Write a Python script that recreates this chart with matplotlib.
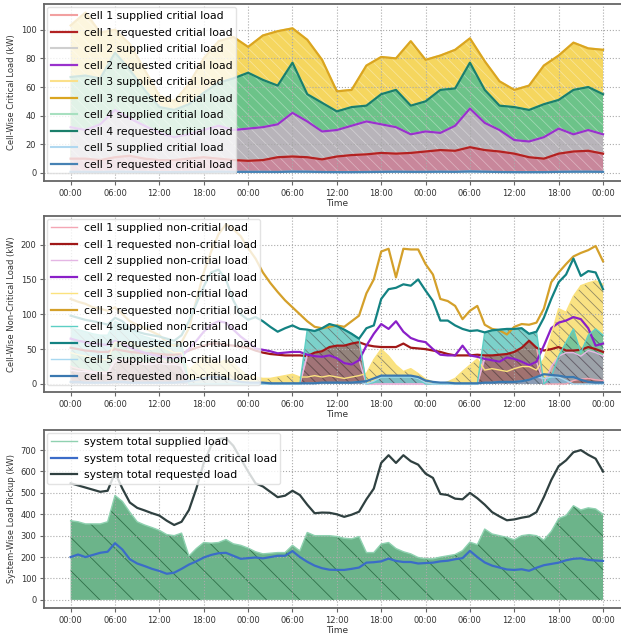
import numpy as np
import pandas as pd
import matplotlib
matplotlib.use("Agg")
import matplotlib.pyplot as plt
import matplotlib.dates as mdates

plt.rcParams['font.family'] = ['DejaVu Sans']
plt.rcParams['hatch.linewidth'] = 0.6

t0 = pd.Timestamp("2019-07-01 00:00")
t_2h = pd.date_range(t0, periods=37, freq="2h")
t_1h = pd.date_range(t0, periods=73, freq="1h")

# ---- top panel: stacked critical load levels (2h steps) ----
crit_top_cell3 = [103, 112, 98, 100, 90, 72, 54, 50, 62, 80, 92, 95,
                  88, 96, 99, 101, 93, 79, 57, 58, 75, 81, 80, 92, 79,
                  82, 86, 94, 78, 64, 58, 61, 75, 82, 91, 87, 86]
crit_top_cell4 = [67, 68, 66, 84, 72, 58, 46, 44, 48, 56, 63, 66,
                  70, 65, 61, 77, 55, 49, 43, 46, 47, 55, 58, 47, 50,
                  58, 59, 77, 58, 47, 46, 44, 48, 51, 58, 60, 55]
crit_top_cell2 = [32, 30, 34, 44, 38, 33, 28, 25, 27, 30, 33, 30,
                  31, 32, 34, 42, 36, 29, 30, 33, 36, 34, 32, 27, 29,
                  28, 33, 45, 35, 30, 23, 22, 25, 31, 27, 30, 27]
crit_top_cell1 = [10, 10, 9, 11, 12, 10, 9, 9, 10, 11, 10, 9,
                  8.5, 9, 11, 11.5, 11, 9.5, 11.5, 12.5, 13, 14, 13.5, 14, 15,
                  16, 15.5, 18, 16, 15, 13.5, 11, 10, 13.5, 15, 15.5, 13.5]
crit_top_cell5 = [0.8, 0.8, 0.7, 0.9, 0.8, 0.7, 0.6, 0.6, 0.7, 0.8, 0.9, 0.8,
                  0.8, 0.8, 0.7, 1.0, 0.9, 0.7, 0.6, 0.6, 0.7, 0.8, 0.9, 0.8, 0.8,
                  0.9, 0.8, 1.1, 0.9, 0.7, 0.6, 0.6, 0.6, 0.8, 0.9, 0.9, 0.8]

# ---- middle panel: non-critical load (1h steps) ----
nc_req_cell3 = [122, 118, 115, 110, 108, 105, 110, 100, 90, 85, 80, 75,
                70, 60, 55, 60, 80, 120, 160, 190, 215, 229, 222, 212,
                195, 180, 160, 145, 132, 120, 110, 100, 90, 82, 80, 82,
                84, 82, 90, 98, 130, 150, 190, 194, 153, 194, 193, 193,
                172, 157, 122, 119, 112, 93, 105, 112, 85, 79, 77, 71,
                82, 86, 85, 88, 108, 146, 160, 172, 183, 188, 192, 198, 176]
nc_req_cell4 = [98, 95, 92, 90, 88, 85, 95, 90, 80, 75, 72, 70,
                68, 65, 62, 70, 90, 115, 140, 160, 164, 150, 120, 100,
                92, 96, 90, 82, 75, 80, 84, 79, 78, 76, 80, 86,
                83, 78, 72, 65, 80, 84, 122, 136, 138, 143, 141, 150,
                134, 119, 91, 91, 84, 79, 76, 77, 74, 77, 78, 79,
                79, 80, 72, 75, 95, 122, 146, 157, 180, 155, 162, 160, 136]
nc_req_cell2 = [65, 62, 60, 58, 57, 56, 62, 58, 52, 48, 45, 42,
                40, 38, 37, 40, 50, 62, 75, 85, 90, 88, 78, 68,
                60, 51, 49, 47, 44, 45, 46, 46, 42, 40, 39, 41,
                37, 30, 28, 34, 55, 72, 86, 79, 90, 75, 66, 62,
                60, 50, 42, 41, 41, 55, 41, 39, 36, 34, 32, 38,
                36, 32, 27, 32, 55, 80, 88, 91, 96, 93, 80, 55, 58]
nc_req_cell1 = [52, 50, 48, 47, 46, 46, 50, 48, 46, 45, 44, 44,
                43, 42, 42, 44, 48, 52, 55, 58, 58, 56, 55, 53,
                52, 48, 45, 43, 42, 41, 41, 41, 40, 45, 47, 53,
                55, 55, 58, 60, 56, 54, 53, 53, 53, 58, 52, 51,
                50, 48, 46, 43, 41, 41, 41, 42, 41, 41, 42, 43,
                46, 52, 62, 52, 48, 50, 53, 48, 48, 49, 53, 50, 46]
nc_req_cell5 = [3, 3, 2, 2, 2, 2, 3, 3, 2, 2, 2, 2,
                2, 2, 2, 3, 4, 6, 8, 10, 10, 8, 5, 3,
                2, 2, 2, 1, 1, 1, 1, 1, 1, 1, 2, 2,
                2, 2, 2, 3, 4, 8, 12, 12, 12, 12, 12, 10,
                5, 3, 2, 2, 1, 1, 1, 1, 2, 2, 3, 3,
                3, 4, 6, 10, 14, 13, 12, 10, 10, 6, 3, 2, 2]

nc_sup_cell3 = [45, 42, 40, 38, 35, 35, 60, 58, 60, 55, 50, 50,
                55, 50, 45, 45, 20, 30, 40, 35, 30, 35, 30, 20,
                12, 10, 8, 8, 10, 12, 14, 10, 10, 12, 10, 12,
                10, 8, 10, 12, 15, 35, 50, 40, 27, 18, 22, 15,
                7, 3, 0, 3, 8, 18, 27, 36, 20, 22, 20, 18,
                22, 25, 25, 20, 36, 70, 108, 103, 126, 141, 145, 148, 143]
nc_sup_cell4 = [80, 78, 75, 72, 70, 70, 90, 85, 78, 72, 68, 65,
                62, 60, 58, 58, 0, 0, 0, 0, 0, 0, 0, 0,
                0, 0, 0, 0, 0, 0, 0, 0, 78, 76, 80, 86,
                83, 78, 72, 65, 0, 2, 10, 10, 10, 10, 10, 8,
                0, 0, 0, 0, 0, 0, 0, 0, 74, 77, 78, 79,
                79, 80, 72, 75, 0, 10, 40, 60, 79, 45, 70, 79, 70]
nc_sup_cell2 = [20, 18, 18, 16, 15, 15, 33, 33, 30, 30, 28, 28,
                30, 28, 28, 26, 0, 0, 0, 0, 0, 0, 0, 0,
                0, 0, 0, 0, 0, 0, 0, 0, 42, 40, 39, 41,
                37, 30, 28, 34, 0, 0, 0, 0, 0, 0, 0, 0,
                0, 0, 0, 0, 0, 0, 0, 0, 36, 34, 32, 38,
                36, 32, 27, 32, 0, 25, 40, 45, 45, 40, 48, 45, 40]
nc_sup_cell1 = [25, 22, 20, 18, 17, 17, 35, 35, 35, 32, 30, 30,
                35, 32, 30, 28, 0, 0, 0, 0, 0, 0, 0, 0,
                0, 0, 0, 0, 0, 0, 0, 0, 40, 45, 47, 53,
                55, 55, 58, 60, 0, 0, 0, 0, 0, 0, 0, 0,
                0, 0, 0, 0, 0, 0, 0, 0, 41, 41, 42, 43,
                46, 52, 62, 52, 0, 0, 0, 0, 5, 7, 8, 6, 5]
nc_sup_cell5 = [3, 3, 2, 2, 2, 2, 3, 3, 2, 2, 2, 2,
                2, 2, 2, 3, 4, 6, 8, 10, 10, 8, 5, 3,
                0, 0, 0, 0, 0, 0, 0, 0, 1, 1, 2, 2,
                2, 2, 2, 3, 0, 4, 10, 10, 10, 10, 10, 8,
                2, 0, 0, 0, 0, 0, 0, 0, 2, 2, 3, 3,
                3, 4, 6, 10, 8, 10, 10, 5, 0, 0, 0, 0, 0]

# ---- bottom panel: system totals (1h steps) ----
sys_req_total = [545, 535, 525, 515, 505, 510, 595, 520, 455, 430, 418, 405,
                 394, 370, 350, 365, 420, 520, 640, 720, 752, 756, 720, 660,
                 600, 545, 530, 505, 480, 487, 510, 490, 445, 405, 408, 407,
                 400, 388, 398, 412, 470, 520, 640, 676, 640, 676, 648, 632,
                 590, 570, 495, 490, 473, 470, 500, 475, 445, 410, 390, 372,
                 376, 384, 390, 410, 480, 560, 625, 652, 690, 700, 678, 660, 600]
sys_sup_total = [370, 365, 355, 355, 355, 365, 488, 460, 410, 365, 350, 338,
                 325, 305, 300, 312, 205, 240, 268, 265, 268, 282, 262, 255,
                 242, 225, 215, 218, 221, 221, 255, 229, 315, 300, 300, 300,
                 296, 288, 285, 296, 221, 221, 261, 268, 240, 225, 215, 198,
                 192, 192, 200, 206, 212, 230, 270, 258, 331, 308, 300, 292,
                 281, 300, 305, 300, 280, 320, 380, 394, 440, 420, 430, 425, 400]
sys_req_crit = [200, 212, 200, 210, 220, 225, 265, 235, 190, 170, 158, 145,
                135, 122, 127, 145, 165, 180, 198, 210, 218, 220, 206, 192,
                195, 198, 194, 200, 206, 206, 228, 200, 178, 160, 148, 141,
                140, 140, 145, 151, 174, 176, 180, 193, 182, 177, 177, 170,
                172, 174, 180, 183, 190, 195, 229, 200, 175, 160, 151, 142,
                140, 143, 136, 150, 162, 168, 174, 185, 192, 194, 187, 184, 182]

fig = plt.figure(figsize=(6.21, 6.34), dpi=100)
L, W = 0.0709, 0.943
ax1 = fig.add_axes([L, 0.7145, W, 0.2792])
ax2 = fig.add_axes([L, 0.3817, W, 0.2776])
ax3 = fig.add_axes([L, 0.0410, W, 0.2808])

hatch_col = (1, 1, 1, 0.35)

# top: critical load per cell
crit_cells = [
    ("cell 1", crit_top_cell1, "#f2a0a0", "#b22222", "#c8879b"),
    ("cell 2", crit_top_cell2, "#cfcfcf", "#9932cc", "#b8b4ba"),
    ("cell 3", crit_top_cell3, "#fbe08a", "#daa520", "#f5d65e"),
    ("cell 4", crit_top_cell4, "#a8e0c0", "#1b7f6b", "#6cc389"),
    ("cell 5", crit_top_cell5, "#b0d8f0", "#4682b4", "#a8cfe8"),
]
for name, vals, c_sup, c_req, c_fill in [crit_cells[2], crit_cells[3], crit_cells[1],
                                         crit_cells[0], crit_cells[4]]:
    ax1.fill_between(t_2h, 0, vals, facecolor=c_fill, edgecolor=hatch_col,
                     hatch="\\\\\\", linewidth=0)
for name, vals, c_sup, c_req, c_fill in crit_cells:
    ax1.plot(t_2h, vals, color=c_sup, lw=1.5, label=name + " supplied critial load")
    ax1.plot(t_2h, vals, color=c_req, lw=1.6, label=name + " requested critial load")

# middle: non-critical load per cell
nc_cells = [
    ("cell 1", nc_sup_cell1, nc_req_cell1, "#f4a6b4", "#a01818", "#a5524a"),
    ("cell 2", nc_sup_cell2, nc_req_cell2, "#e4b6e4", "#8a1fc8", "#b48cb4"),
    ("cell 3", nc_sup_cell3, nc_req_cell3, "#fbe27e", "#d4a02a", "#f5cf30"),
    ("cell 4", nc_sup_cell4, nc_req_cell4, "#5ccfc4", "#138282", "#25b3a8"),
    ("cell 5", nc_sup_cell5, nc_req_cell5, "#a8d8f0", "#3a78b0", "#7fb8e0"),
]
for idx in [2, 3, 1, 0, 4]:
    name, sup, req, c_sup, c_req, c_fill = nc_cells[idx]
    ax2.fill_between(t_1h, 0, sup, facecolor=c_fill, alpha=0.6,
                     edgecolor=(0.3, 0.3, 0.3, 0.3), hatch="\\\\\\", linewidth=0)
for name, sup, req, c_sup, c_req, c_fill in nc_cells:
    ax2.plot(t_1h, sup, color=c_sup, lw=1.0, label=name + " supplied non-critial load")
    ax2.plot(t_1h, req, color=c_req, lw=1.6, label=name + " requested non-critial load")

# bottom: system totals
ax3.fill_between(t_1h, 0, sys_sup_total, facecolor="#6cb48a", edgecolor="#2f6f48",
                 hatch="\\", linewidth=0)
ax3.plot(t_1h, sys_sup_total, color="#8fd1b0", lw=1.0, label="system total supplied load")
ax3.plot(t_1h, sys_req_crit, color="#3b6cc8", lw=1.6, label="system total requested critical load")
ax3.plot(t_1h, sys_req_total, color="#2f4040", lw=1.6, label="system total requested load")

xmin = t0 - pd.Timedelta(hours=3.6)
xmax = t0 + pd.Timedelta(hours=75.6)
ylabels = ["Cell-Wise Critical Load (kW)", "Cell-Wise Non-Critical Load (kW)",
           "System-Wise Load Pickup (kW)"]
ylims = [(-5.6, 118), (-11.5, 241), (-38, 794)]
yticks = [np.arange(0, 101, 20), np.arange(0, 201, 50), np.arange(0, 701, 100)]
for ax, yl, lim, yt in zip([ax1, ax2, ax3], ylabels, ylims, yticks):
    ax.set_xlim(xmin, xmax)
    ax.set_ylim(*lim)
    ax.set_yticks(yt)
    ax.xaxis.set_major_locator(mdates.HourLocator(byhour=[0, 6, 12, 18]))
    ax.xaxis.set_major_formatter(mdates.DateFormatter("%H:%M"))
    ax.tick_params(labelsize=6, length=3, pad=2.5, color="#666666", labelcolor="#333333")
    ax.grid(True, linestyle=":", color="#aaaaaa", lw=0.8)
    for sp in ax.spines.values():
        sp.set_color("#666666")
        sp.set_linewidth(1.3)
    ax.set_ylabel(yl, fontsize=6, color="#333333", labelpad=3)
    ax.set_xlabel("Time", fontsize=6.5, color="#333333", labelpad=1)
    ax.legend(loc="upper left", fontsize=7.8, framealpha=0.8, edgecolor="#dddddd",
              labelspacing=0.6, handlelength=2.4, handletextpad=0.6,
              borderaxespad=0.3, borderpad=0.35)

fig.savefig("out.png", dpi=100)
